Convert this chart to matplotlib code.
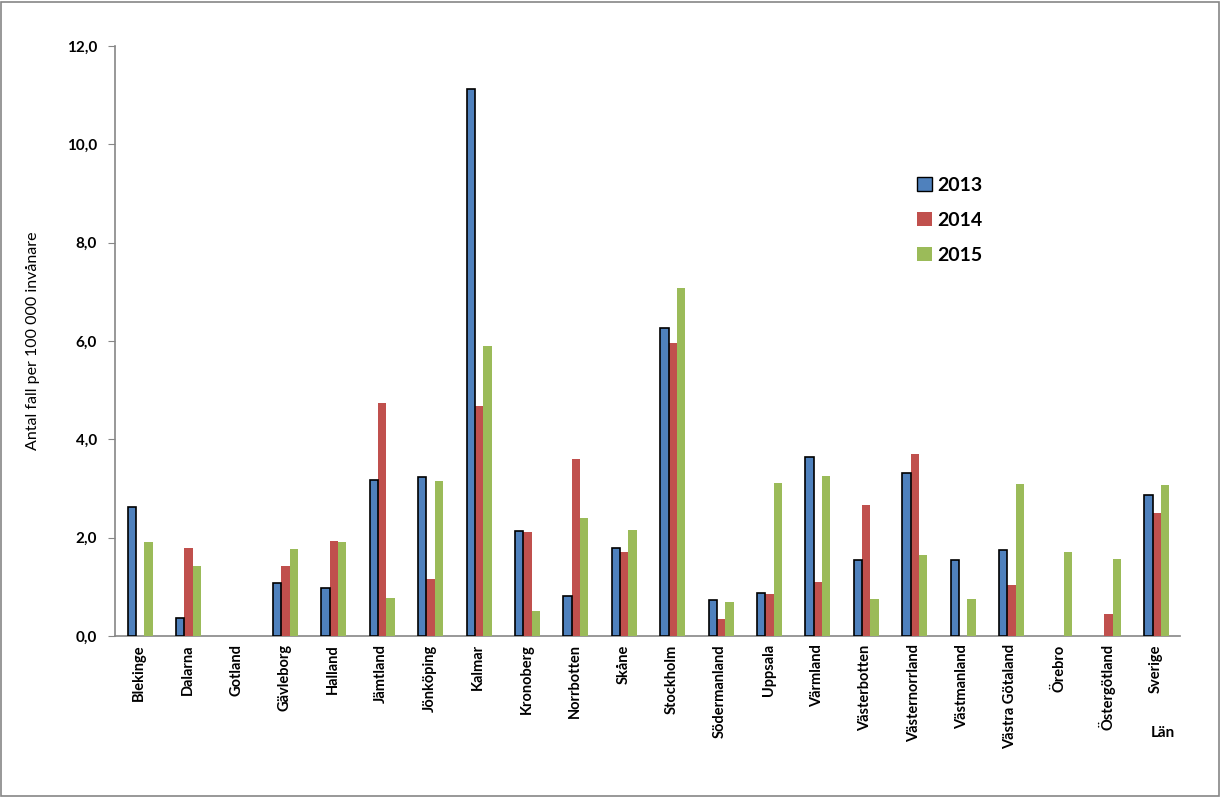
import matplotlib
matplotlib.use("Agg")
import matplotlib.pyplot as plt
import numpy as np
from matplotlib.patches import Rectangle

categories = ["Blekinge", "Dalarna", "Gotland", "Gävleborg", "Halland", "Jämtland",
              "Jönköping", "Kalmar", "Kronoberg", "Norrbotten", "Skåne", "Stockholm",
              "Södermanland", "Uppsala", "Värmland", "Västerbotten", "Västernorrland",
              "Västmanland", "Västra Götaland", "Örebro", "Östergötland", "Sverige"]
v2013 = [2.62, 0.36, 0.0, 1.07, 0.97, 3.17, 3.23, 11.13, 2.13, 0.81, 1.80, 6.26,
         0.73, 0.87, 3.65, 1.54, 3.32, 1.54, 1.74, 0.0, 0.0, 2.86]
v2014 = [0.0, 1.79, 0.0, 1.42, 1.93, 4.74, 1.16, 4.68, 2.11, 3.60, 1.71, 5.96,
         0.35, 0.85, 1.10, 2.66, 3.70, 0.0, 1.04, 0.0, 0.45, 2.50]
v2015 = [1.91, 1.42, 0.0, 1.77, 1.91, 0.77, 3.15, 5.90, 0.51, 2.40, 2.16, 7.08,
         0.69, 3.11, 3.25, 0.75, 1.65, 0.75, 3.09, 1.71, 1.57, 3.07]
years = ["2013", "2014", "2015"]
colors = ["#4F81BD", "#C0504D", "#9BBB59"]
yticks = [0, 2, 4, 6, 8, 10, 12]

plt.rcParams['font.family'] = ['Lato', 'DejaVu Sans']

W, H = 1221, 797
fig = plt.figure(figsize=(W / 100, H / 100), dpi=100)
ax = fig.add_axes([115 / W, (H - 636) / H, 1065 / W, 590 / H])

x = np.arange(len(categories))
bw = 0.172
series = [v2013, v2014, v2015]
for k, (vals, c) in enumerate(zip(series, colors)):
    vals = np.array(vals)
    ec = ['black' if (k == 0 and v > 0) else 'none' for v in vals]
    lw = 1.2 if k == 0 else 0
    ax.bar(x + (k - 1) * bw + 0.02, vals, width=bw, color=c, edgecolor=ec,
           linewidth=lw, zorder=3 if k == 0 else 2.9)

ax.set_xlim(-0.5, len(categories) - 0.5)
ax.set_ylim(0, 12)
ax.set_yticks(yticks)
ax.set_yticklabels([f"{t:.1f}".replace('.', ',') for t in yticks],
                   fontsize=11, fontweight='bold')
ax.set_xticks(x)
ax.set_xticklabels(categories, rotation=90, fontsize=10.5, fontweight='bold',
                   va='top', ha='center')
ax.tick_params(axis='x', length=0, pad=6)
ax.tick_params(axis='y', direction='out', length=5, color='#868686', pad=8)
for s in ['top', 'right']:
    ax.spines[s].set_visible(False)
for s in ['left', 'bottom']:
    ax.spines[s].set_color('#868686')
    ax.spines[s].set_linewidth(1.2)

ax.set_ylabel("Antal fall per 100 000 invånare", fontsize=11.5)
ax.yaxis.set_label_coords(-75 / 1065, 0.5)

# legend
handles = [Rectangle((0, 0), 1, 1, facecolor=colors[0], edgecolor='black', linewidth=1.0),
           Rectangle((0, 0), 1, 1, facecolor=colors[1], edgecolor='none'),
           Rectangle((0, 0), 1, 1, facecolor=colors[2], edgecolor='none')]
leg = fig.legend(handles, years, loc='upper left',
                 bbox_to_anchor=(917 / W, 1 - 177 / H), frameon=False,
                 borderpad=0, borderaxespad=0,
                 prop={'family': ['Lato', 'DejaVu Sans'], 'weight': 'bold', 'size': 14},
                 handlelength=0.75, handleheight=0.75, handletextpad=0.3,
                 labelspacing=0.92)

fig.text(1163 / W, 1 - 733 / H, "Län", fontsize=11, fontweight='bold',
         ha='center', va='center')

# figure border
fig.add_artist(Rectangle((1 / W, 1 / H), (W - 3) / W, (H - 3) / H,
                         transform=fig.transFigure, fill=False,
                         edgecolor='#868686', linewidth=1.2))

fig.savefig("out.png", dpi=100, facecolor='white')
